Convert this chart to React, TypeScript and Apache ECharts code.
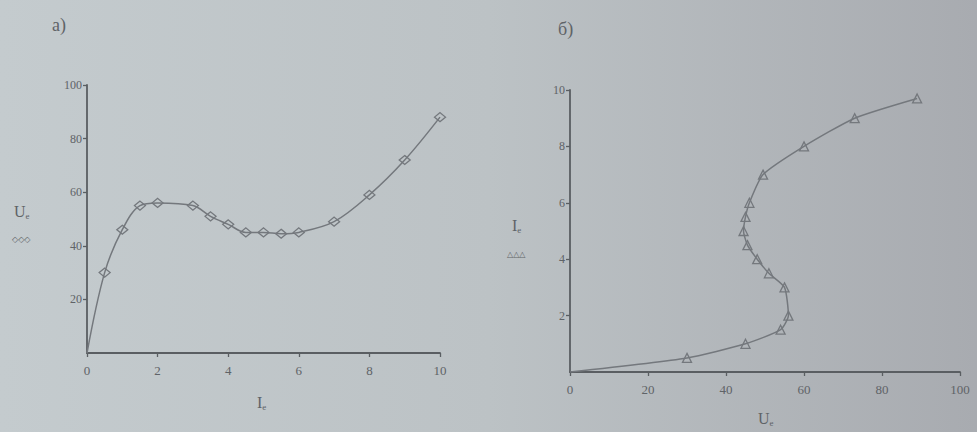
import React, { useEffect, useRef } from "react";
import * as echarts from "echarts";

// Left chart (а): U_e as a function of I_e
const leftI = [0, 0.5, 1, 1.5, 2, 3, 3.5, 4, 4.5, 5, 5.5, 6, 7, 8, 9, 10];
const leftU = [0, 30, 46, 55, 56, 55, 51, 48, 45, 45, 44.5, 45, 49, 59, 72, 88];

// Right chart (б): I_e as a function of U_e
const rightU = [0, 30, 45, 54, 56, 55, 51, 48, 45.5, 44.5, 45, 46, 49.5, 60, 73, 89];
const rightI = [0, 0.5, 1, 1.5, 2, 3, 3.5, 4, 4.5, 5, 5.5, 6, 7, 8, 9, 9.7];

const leftXTicks = [0, 2, 4, 6, 8, 10];
const leftYTicks = [20, 40, 60, 80, 100];
const rightXTicks = [0, 20, 40, 60, 80, 100];
const rightYTicks = [2, 4, 6, 8, 10];

const AXIS = "#5a5e62";
const LINE = "#74787d";
const TEXT = "#5f6367";
const FONT = "'Liberation Serif', 'DejaVu Serif', serif";

function makePoints(xs: number[], ys: number[]) {
  return xs.map((x, i) =>
    i === 0 ? { value: [x, ys[i]], symbol: "none" } : { value: [x, ys[i]] }
  );
}

export default function App() {
  const ref = useRef<HTMLDivElement>(null);
  useEffect(() => {
    if (!ref.current) return;
    const chart = echarts.init(ref.current, undefined, { renderer: "svg" });
    const axisCommon = {
      type: "value" as const,
      axisLine: { show: true, lineStyle: { color: AXIS, width: 1.8 } },
      axisTick: { show: true, length: 4, lineStyle: { color: AXIS, width: 1.3 } },
      splitLine: { show: false },
      axisLabel: { color: TEXT, fontFamily: FONT, fontSize: 13 },
    };
    const sub = { fontSize: 9, fontFamily: FONT, fill: TEXT, padding: [10, 0, 0, 0] };
    chart.setOption({
      animation: false,
      backgroundColor: new echarts.graphic.LinearGradient(0, 0, 1, 0, [
        { offset: 0, color: "#c4cbce" },
        { offset: 0.5, color: "#bcc2c5" },
        { offset: 1, color: "#a8abb0" },
      ]),
      grid: [
        { left: 87, top: 85, width: 353, height: 268 },
        { left: 570, top: 90, width: 390, height: 282 },
      ],
      xAxis: [
        {
          ...axisCommon,
          gridIndex: 0,
          min: 0,
          max: 10,
          interval: 2,
          axisLabel: { ...axisCommon.axisLabel, margin: 11 },
        },
        {
          ...axisCommon,
          gridIndex: 1,
          min: 0,
          max: 100,
          interval: 20,
          axisLabel: { ...axisCommon.axisLabel, margin: 11 },
        },
      ],
      yAxis: [
        {
          ...axisCommon,
          gridIndex: 0,
          min: 0,
          max: 100,
          interval: 20,
          axisLabel: { ...axisCommon.axisLabel, margin: 5, showMinLabel: false, fontSize: 12 },
        },
        {
          ...axisCommon,
          gridIndex: 1,
          min: 0,
          max: 10,
          interval: 2,
          axisLabel: { ...axisCommon.axisLabel, margin: 5, showMinLabel: false, fontSize: 12 },
        },
      ],
      series: [
        {
          type: "line",
          xAxisIndex: 0,
          yAxisIndex: 0,
          data: makePoints(leftI, leftU),
          smooth: 0.35,
          symbol: "diamond",
          symbolSize: [11, 9],
          lineStyle: { color: LINE, width: 1.5 },
          itemStyle: { color: "rgba(0,0,0,0)", borderColor: LINE, borderWidth: 1.3 },
        },
        {
          type: "line",
          xAxisIndex: 1,
          yAxisIndex: 1,
          data: makePoints(rightU, rightI),
          smooth: 0.2,
          symbol: "triangle",
          symbolSize: 9,
          lineStyle: { color: LINE, width: 1.5 },
          itemStyle: { color: "rgba(0,0,0,0)", borderColor: LINE, borderWidth: 1.3 },
        },
      ],
      graphic: [
        { type: "text", left: 52, top: 16, style: { text: "а)", fill: TEXT, font: `18px ${FONT}` } },
        { type: "text", left: 558, top: 20, style: { text: "б)", fill: TEXT, font: `18px ${FONT}` } },
        {
          type: "text",
          left: 14,
          top: 203,
          style: { text: "U{s|e}", fill: TEXT, font: `16px ${FONT}`, rich: { s: sub } },
        },
        { type: "text", left: 12, top: 235, style: { text: "◇◇◇", fill: TEXT, font: `8px ${FONT}` } },
        {
          type: "text",
          left: 257,
          top: 394,
          style: { text: "I{s|e}", fill: TEXT, font: `16px ${FONT}`, rich: { s: sub } },
        },
        {
          type: "text",
          left: 512,
          top: 217,
          style: { text: "I{s|e}", fill: TEXT, font: `16px ${FONT}`, rich: { s: sub } },
        },
        { type: "text", left: 507, top: 250, style: { text: "△△△", fill: TEXT, font: `8px ${FONT}` } },
        {
          type: "text",
          left: 758,
          top: 410,
          style: { text: "U{s|e}", fill: TEXT, font: `16px ${FONT}`, rich: { s: sub } },
        },
      ],
    });
    return () => chart.dispose();
  }, []);
  return (
    <div
      ref={ref}
      style={{ position: "fixed", left: 0, top: 0, width: 977, height: 432 }}
    />
  );
}
